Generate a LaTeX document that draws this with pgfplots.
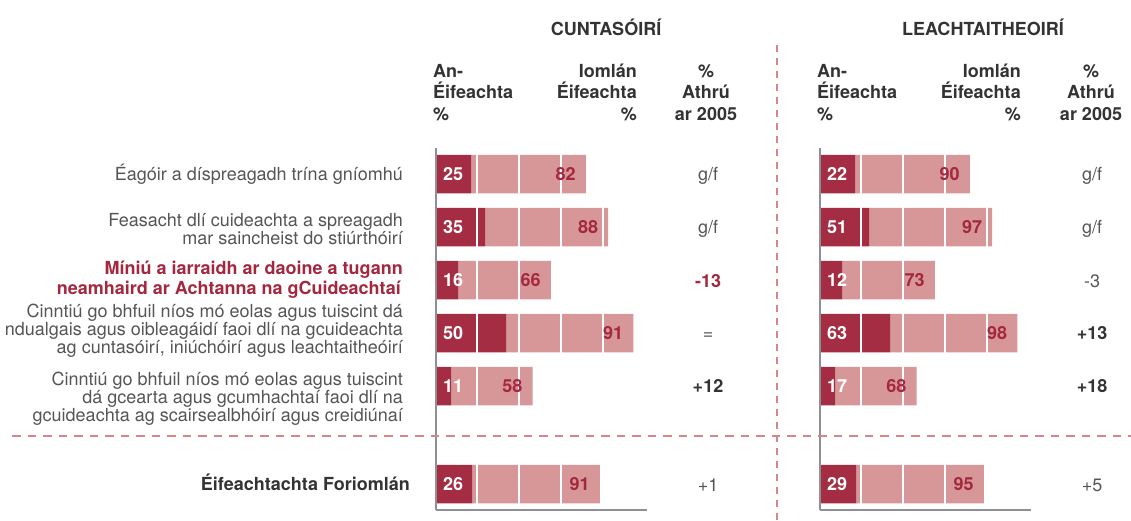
\documentclass[border=0pt]{standalone}
\usepackage{fontspec}
\setmainfont{TeX Gyre Heros}
\usepackage{pgfplots}
\usepackage{pgfplotstable}
\pgfplotsset{compat=1.18}
\definecolor{darkbar}{HTML}{A52D43}
\definecolor{pinkbar}{HTML}{D79697}
\definecolor{redtext}{HTML}{A3283F}
\definecolor{graytext}{HTML}{555555}
\definecolor{headtext}{HTML}{333333}
\definecolor{axisgray}{HTML}{8E9093}
\definecolor{dashcol}{HTML}{D6868B}

% bars as drawn in the reference (lengths), labels as printed
\pgfplotstableread{
y zero dark pink tot dlab plab
-174 0 25 82 107 25 82
-227 0 35 88 123 35 88
-280 0 16 66 82 16 66
-333 0 50 91 141 50 91
-386 0 11 58 69 11 58
-484 0 26 91 117 26 91
}\cuntdata
\pgfplotstableread{
y zero dark pink tot dlab plab
-174 0 25 82 107 22 90
-227 0 35 88 123 51 97
-280 0 16 66 82 12 73
-333 0 50 91 141 63 98
-386 0 11 58 69 17 68
-484 0 26 91 117 29 95
}\leachdata

\newcommand\fs{\fontsize{18}{20}\selectfont}

\pgfplotsset{
 geom/.style={scale only axis, width=211pt, height=362pt,
  xmin=0, xmax=150.7, ymin=-510, ymax=-148, clip=false},
 panel/.style={geom,
  xbar stacked, bar width=38.5pt,
  axis lines=left, axis line style={axisgray, line width=2pt, -},
  xtick={29,59.4,89.5,119.6}, xticklabels={}, ytick=\empty,
  major tick length=0pt,
  xmajorgrids, grid style={white, line width=2pt},
  axis on top},
 labels/.style={geom, hide axis, point meta=explicit symbolic},
 darklab/.style={only marks, mark=*, mark size=0pt, mark options={draw=none, fill=none},
  nodes near coords, nodes near coords style={white, font=\bfseries\fs, anchor=west, inner sep=0pt, xshift=7pt}},
 pinklab/.style={only marks, mark=*, mark size=0pt, mark options={draw=none, fill=none},
  nodes near coords, nodes near coords style={redtext, font=\bfseries\fs, anchor=east, inner sep=0pt, xshift=-10pt}},
}

\begin{document}
\begin{tikzpicture}[x=1pt,y=1pt]
\useasboundingbox (0,0) rectangle (1131,-520);

% ---- left panel
\begin{axis}[panel, at={(436pt,-510pt)}, anchor=south west]
\addplot[draw=none, fill=darkbar] table[x=dark, y=y]{\cuntdata};
\addplot[draw=none, fill=pinkbar] table[x=pink, y=y]{\cuntdata};
\end{axis}
\begin{axis}[labels, at={(436pt,-510pt)}, anchor=south west]
\addplot[darklab] table[x=zero, y=y, meta=dlab]{\cuntdata};
\addplot[pinklab] table[x=tot, y=y, meta=plab]{\cuntdata};
\end{axis}

% ---- right panel
\begin{axis}[panel, at={(820pt,-510pt)}, anchor=south west]
\addplot[draw=none, fill=darkbar] table[x=dark, y=y]{\leachdata};
\addplot[draw=none, fill=pinkbar] table[x=pink, y=y]{\leachdata};
\end{axis}
\begin{axis}[labels, at={(820pt,-510pt)}, anchor=south west]
\addplot[darklab] table[x=zero, y=y, meta=dlab]{\leachdata};
\addplot[pinklab] table[x=tot, y=y, meta=plab]{\leachdata};
\end{axis}

% ---- dashed separators
\draw[dashcol, line width=2pt, dash pattern=on 8.5pt off 7pt] (12,-436) -- (1131,-436);
\draw[dashcol, line width=2pt, dash pattern=on 7pt off 6pt] (777,-45) -- (777,-520);

% ---- titles
\tikzset{hd/.style={font=\bfseries\fs, text=headtext, inner sep=0pt}}
\node[hd] at (606,-27) {CUNTASÓIRÍ};
\node[hd] at (983,-27) {LEACHTAITHEOIRÍ};

% ---- column headers
\foreach \ox in {0,384}{
  \node[hd, anchor=base west] at (433+\ox,-77) {An-};
  \node[hd, anchor=base west] at (433+\ox,-98.5) {Éifeachta};
  \node[hd, anchor=base west] at (433+\ox,-120) {\%};
  \node[hd, anchor=base east] at (637+\ox,-77) {Iomlán};
  \node[hd, anchor=base east] at (637+\ox,-98.5) {Éifeachta};
  \node[hd, anchor=base east] at (637+\ox,-120) {\%};
}
\node[hd, anchor=base] at (706,-77) {\%};
\node[hd, anchor=base] at (706,-98.5) {Athrú};
\node[hd, anchor=base] at (706,-120) {ar 2005};
\node[hd, anchor=base] at (1091,-77) {\%};
\node[hd, anchor=base] at (1091,-98.5) {Athrú};
\node[hd, anchor=base] at (1091,-120) {ar 2005};

% ---- row labels
\tikzset{rl/.style={font=\fs, text=graytext, inner sep=0pt, anchor=base east},
         rb/.style={font=\bfseries\fs, text=redtext, inner sep=0pt, anchor=base east}}
\node[rl] at (403,-180) {Éagóir a díspreagadh trína gníomhú};
\node[rl] at (403,-226) {Feasacht dlí cuideachta a spreagadh};
\node[rl] at (403,-244) {mar saincheist do stiúrthóirí};
\node[rb] at (403,-274) {Míniú a iarraidh ar daoine a tugann};
\node[rb] at (401,-294) {neamhaird ar Achtanna na gCuideachtaí};
\node[rl] at (403,-317) {Cinntiú go bhfuil níos mó eolas agus tuiscint dá};
\node[rl] at (403,-335) {ndualgais agus oibleagáidí faoi dlí na gcuideachta};
\node[rl] at (403,-353) {ag cuntasóirí, iniúchóirí agus leachtaitheóirí};
\node[rl] at (403,-385) {Cinntiú go bhfuil níos mó eolas agus tuiscint};
\node[rl] at (403,-403) {dá gcearta agus gcumhachtaí faoi dlí na};
\node[rl] at (403,-421) {gcuideachta ag scairsealbhóirí agus creidiúnaí};
\node[font=\bfseries\fs, text=headtext, inner sep=0pt, anchor=base east] at (410,-490) {Éifeachtachta Foriomlán};

% ---- % change columns
\tikzset{cg/.style={font=\fs, text=graytext, inner sep=0pt, anchor=base},
         cb/.style={font=\bfseries\fs, text=headtext, inner sep=0pt, anchor=base},
         cr/.style={font=\bfseries\fs, text=redtext, inner sep=0pt, anchor=base}}
\node[cg] at (708,-180.5) {g/f};
\node[cg] at (708,-233.5) {g/f};
\node[cr] at (708,-287.5) {-13};
\node[cg] at (708,-339) {=};
\node[cb] at (708,-392.5) {+12};
\node[cg] at (708,-491) {+1};
\node[cg] at (1092,-180.5) {g/f};
\node[cg] at (1092,-233.5) {g/f};
\node[cg] at (1092,-287.5) {-3};
\node[cb] at (1092,-339.5) {+13};
\node[cb] at (1092,-392.5) {+18};
\node[cg] at (1092,-491) {+5};
\end{tikzpicture}
\end{document}
